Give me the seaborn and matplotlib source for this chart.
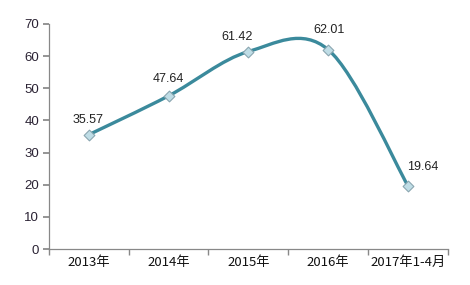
import matplotlib
matplotlib.use("Agg")
import matplotlib.pyplot as plt
import seaborn as sns
import numpy as np
import pandas as pd
from matplotlib.path import Path
from matplotlib.patches import PathPatch

categories = ["2013年", "2014年", "2015年", "2016年", "2017年1-4月"]
values = [35.57, 47.64, 61.42, 62.01, 19.64]
yticks = [0, 10, 20, 30, 40, 50, 60, 70]

# label offsets in pixels (dx, dy up)
label_offsets = [(-1, 15), (0, 17), (-11, 15), (1, 20), (15, 19)]

sns.set_theme(style="white")
plt.rcParams['font.family'] = ['Liberation Sans', 'Noto Sans CJK SC', 'DejaVu Sans']

fig = plt.figure(figsize=(4.7, 2.85), dpi=100)
ax = fig.add_axes([0.104, 0.126, 0.849, 0.79])

df = pd.DataFrame({"x": np.arange(len(categories)), "y": values})
line_color = "#3B8A9C"

xs = df["x"].to_numpy(dtype=float)
ys = df["y"].to_numpy(dtype=float)
n = len(xs)
verts = [(xs[0], ys[0])]
codes = [Path.MOVETO]
for i in range(n - 1):
    p0 = np.array([xs[max(i - 1, 0)], ys[max(i - 1, 0)]])
    p1 = np.array([xs[i], ys[i]])
    p2 = np.array([xs[i + 1], ys[i + 1]])
    p3 = np.array([xs[min(i + 2, n - 1)], ys[min(i + 2, n - 1)]])
    c1 = p1 + (p2 - p0) / 6.0
    c2 = p2 - (p3 - p1) / 6.0
    verts += [tuple(c1), tuple(c2), tuple(p2)]
    codes += [Path.CURVE4] * 3
ax.add_patch(PathPatch(Path(verts, codes), facecolor="none", edgecolor=line_color,
                       lw=2.4, capstyle="round", zorder=2))

sns.scatterplot(data=df, x="x", y="y", marker="D", s=30, color="#BFDDE6",
                edgecolor="#8AA6B0", linewidth=0.8, zorder=3, ax=ax, legend=False)

for (xi, yi), (dx, dy) in zip(zip(xs, ys), label_offsets):
    ax.annotate(f"{yi:.2f}", (xi, yi), xytext=(dx * 0.72, dy * 0.72), textcoords="offset points",
                ha="center", va="center", fontsize=9, color="#222222")

ax.set_xlim(-0.5, n - 0.5)
ax.set_ylim(0, 70)
ax.set_yticks(yticks)
ax.set_yticklabels([str(t) for t in yticks], fontsize=9.5, color="#2a2233")
ax.set_xticks(xs)
ax.set_xticklabels(categories, fontsize=9.5, color="#111111",
                   family=['Noto Sans CJK SC', 'DejaVu Sans'])
ax.set_xticks(np.arange(-0.5, n, 1.0), minor=True)
ax.tick_params(axis="x", which="major", length=0, pad=5)
ax.tick_params(axis="x", which="minor", length=4, color="#888888", direction="out", bottom=True)
ax.tick_params(axis="y", length=4, color="#888888", direction="out", left=True, pad=3)
ax.set_xlabel("")
ax.set_ylabel("")
for s in ["top", "right"]:
    ax.spines[s].set_visible(False)
for s in ["left", "bottom"]:
    ax.spines[s].set_color("#888888")
    ax.spines[s].set_linewidth(0.9)
ax.grid(False)

fig.savefig("out.png", dpi=100)
